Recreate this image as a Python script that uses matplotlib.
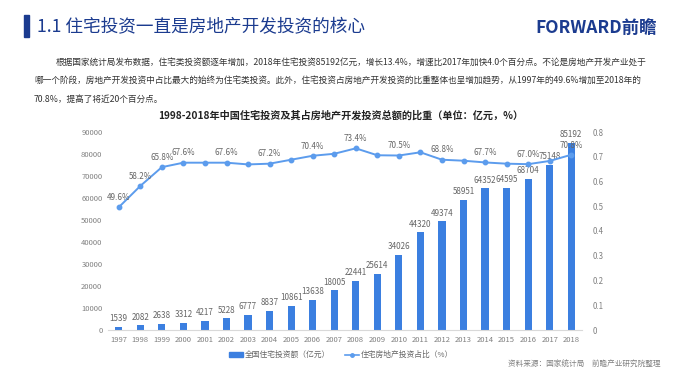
import matplotlib
matplotlib.use('Agg')
import matplotlib.pyplot as plt
from matplotlib.lines import Line2D
from matplotlib.patches import Patch

plt.rcParams['font.family'] = ['Noto Sans CJK SC', 'DejaVu Sans']

# data
years = [str(y) for y in range(1997, 2019)]
invest = [1539, 2082, 2638, 3312, 4217, 5228, 6777, 8837, 10861, 13638, 18005,
          22441, 25614, 34026, 44320, 49374, 58951, 64352, 64595, 68704, 75148, 85192]
share = [0.496, 0.582, 0.658, 0.676, 0.676, 0.676, 0.669, 0.672, 0.688, 0.704, 0.712,
         0.734, 0.706, 0.705, 0.718, 0.688, 0.684, 0.677, 0.672, 0.670, 0.683, 0.708]
share_labels = {0: '49.6%', 1: '58.2%', 2: '65.8%', 3: '67.6%', 5: '67.6%', 7: '67.2%',
                9: '70.4%', 11: '73.4%', 13: '70.5%', 15: '68.8%', 17: '67.7%',
                19: '67.0%', 21: '70.8%'}
left_ticks = list(range(0, 90001, 10000))
right_ticks = [0, 0.1, 0.2, 0.3, 0.4, 0.5, 0.6, 0.7, 0.8]

bar_color = '#3b7fe0'
line_color = '#5c9ced'
grey = '#808080'
navy = '#1b3b8f'

fig = plt.figure(figsize=(6.8, 3.81), dpi=100)

# header
fig.patches.append(plt.Rectangle((24 / 680, 1 - 37 / 381), 5 / 680, 22 / 381,
                                 transform=fig.transFigure, color=navy))
fig.text(37 / 680, 1 - 27 / 381, '1.1 住宅投资一直是房地产开发投资的核心',
         fontsize=12.7, color=navy, va='center', ha='left')
fig.text(657 / 680, 1 - 28 / 381, 'FORWARD前瞻', fontsize=12.5, color=navy,
         fontweight='bold', va='center', ha='right')

# paragraph
para = ['根据国家统计局发布数据，住宅类投资额逐年增加，2018年住宅投资85192亿元，增长13.4%，增速比2017年加快4.0个百分点。不论是房地产开发产业处于',
        '哪一个阶段，房地产开发投资中占比最大的始终为住宅类投资。此外，住宅投资占房地产开发投资的比重整体也呈增加趋势，从1997年的49.6%增加至2018年的',
        '70.8%，提高了将近20个百分点。']
fig.text(56 / 680, 1 - 63 / 381, para[0], fontsize=6.25, color='#333333', va='center')
fig.text(34 / 680, 1 - 81 / 381, para[1], fontsize=6.25, color='#333333', va='center')
fig.text(34 / 680, 1 - 99 / 381, para[2], fontsize=6.25, color='#333333', va='center')

# chart title
fig.text(341 / 680, 1 - 116 / 381,
         '1998-2018年中国住宅投资及其占房地产开发投资总额的比重（单位：亿元，%）',
         fontsize=7.3, fontweight='bold', color='#222222', ha='center', va='center')

ax = fig.add_axes([108 / 680, 51 / 381, 474 / 680, 198 / 381])
x = list(range(len(years)))
ax.bar(x, invest, width=0.33, color=bar_color, zorder=2)
ax.set_xlim(-0.5, len(years) - 0.5)
ax.set_ylim(0, 90000)
ax.set_yticks(left_ticks)
ax.set_yticklabels([str(v) for v in left_ticks])
ax.set_xticks(x)
ax.set_xticklabels(years)
ax.tick_params(length=0, labelsize=5.5, colors=grey, pad=4)
for s in ['top', 'left', 'right']:
    ax.spines[s].set_visible(False)
ax.spines['bottom'].set_color('#d9d9d9')

for xi, v in zip(x, invest):
    ax.annotate(str(v), (xi, v), xytext=(0, 6), textcoords='offset points',
                ha='center', va='center', fontsize=5.8, color='#666666')

ax2 = ax.twinx()
ax2.plot(x, share, color=line_color, lw=1.4, marker='o', markersize=3.2, zorder=3)
ax2.set_ylim(0, 0.8)
ax2.set_yticks(right_ticks)
ax2.set_yticklabels(['0' if t == 0 else f'{t:.1f}' for t in right_ticks])
ax2.tick_params(length=0, labelsize=5.7, colors=grey, pad=8)
for s in ['top', 'left', 'right', 'bottom']:
    ax2.spines[s].set_visible(False)
for i, lab in share_labels.items():
    ax2.annotate(lab, (x[i], share[i]), xytext=(0, 7), textcoords='offset points',
                 ha='center', va='center', fontsize=5.8, color='#666666')

handles = [Patch(color=bar_color), Line2D([], [], color=line_color, marker='o', markersize=2.5, lw=1.2)]
fig.legend(handles, ['全国住宅投资额（亿元）', '住宅房地产投资占比（%）'],
           loc='center', bbox_to_anchor=(341 / 680, 1 - 355 / 381), ncol=2, frameon=False,
           fontsize=5.6, labelcolor='#666666', handlelength=1.8, handleheight=0.5,
           columnspacing=1.8, handletextpad=0.3)

fig.text(660 / 680, 1 - 365 / 381, '资料来源：国家统计局　前瞻产业研究院整理',
         fontsize=5.5, color=grey, ha='right', va='center')

fig.savefig('out.png', dpi=100)
